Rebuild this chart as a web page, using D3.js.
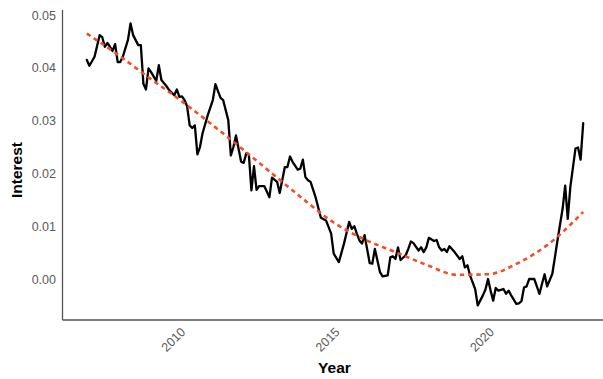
<!DOCTYPE html>
<html>
<head>
<meta charset="utf-8">
<script src="https://cdn.jsdelivr.net/npm/d3@7"></script>
<style>
  html, body { margin: 0; padding: 0; background: #ffffff; }
  svg { display: block; font-family: "Liberation Sans", Arial, Helvetica, sans-serif; }
</style>
</head>
<body>
<svg id="chart" width="603" height="379"></svg>
<script>
// Monthly interest series; month offsets count from January 2007.
const startYear = 2007;
const monthIndex = [
  0, 1, 3, 5, 6, 7, 8, 9, 10, 11, 12, 13, 14, 16, 17, 18, 20, 21, 22, 23,
  24, 25, 27, 28, 29, 31, 32, 34, 35, 36, 37, 38, 39, 40, 41, 42, 43, 44, 45, 47,
  49, 50, 51, 52, 53, 55, 56, 57, 58, 60, 61, 62, 63, 64, 65, 66, 67, 69, 71, 72,
  74, 75, 77, 78, 79, 80, 82, 83, 84, 85, 86, 87, 89, 91, 93, 95, 96, 98, 100, 102,
  103, 104, 105, 106, 107, 108, 110, 111, 112, 114, 115, 117, 118, 119, 120, 121, 122, 124, 125, 126,
  127, 129, 130, 131, 132, 133, 135, 136, 137, 138, 139, 140, 141, 143, 145, 146, 147, 148, 149, 151,
  152, 154, 155, 156, 157, 158, 159, 160, 162, 163, 164, 165, 167, 168, 169, 170, 171, 172, 174, 176,
  177, 178, 179, 181, 182, 183, 185, 186, 187, 188, 190, 191, 192, 193
];
const interest = [
  0.0415, 0.0404, 0.0421, 0.0462, 0.0458, 0.0440, 0.0447, 0.0440, 0.0432, 0.0445, 0.0411, 0.0411, 0.0421, 0.0453, 0.0484, 0.0462, 0.0443, 0.0443, 0.0370, 0.0359,
  0.0399, 0.0392, 0.0375, 0.0405, 0.0377, 0.0365, 0.0358, 0.0348, 0.0359, 0.0345, 0.0346, 0.0339, 0.0327, 0.0291, 0.0286, 0.0291, 0.0236, 0.0250, 0.0276, 0.0310,
  0.0339, 0.0369, 0.0356, 0.0343, 0.0339, 0.0301, 0.0234, 0.0250, 0.0272, 0.0222, 0.0220, 0.0238, 0.0236, 0.0168, 0.0214, 0.0169, 0.0176, 0.0176, 0.0155, 0.0192,
  0.0184, 0.0163, 0.0212, 0.0212, 0.0232, 0.0222, 0.0207, 0.0209, 0.0226, 0.0193, 0.0187, 0.0184, 0.0154, 0.0116, 0.0111, 0.0086, 0.0048, 0.0032, 0.0067, 0.0108,
  0.0095, 0.0100, 0.0086, 0.0073, 0.0067, 0.0083, 0.0030, 0.0029, 0.0057, 0.0013, 0.0005, 0.0007, 0.0041, 0.0043, 0.0038, 0.0060, 0.0036, 0.0045, 0.0057, 0.0071,
  0.0068, 0.0054, 0.0060, 0.0051, 0.0060, 0.0078, 0.0072, 0.0074, 0.0060, 0.0054, 0.0057, 0.0051, 0.0062, 0.0051, 0.0038, 0.0043, 0.0022, 0.0026, 0.0007, -0.0019,
  -0.0050, -0.0031, -0.0020, 0.0000, -0.0022, -0.0041, -0.0017, -0.0022, -0.0019, -0.0028, -0.0022, -0.0031, -0.0047, -0.0046, -0.0042, -0.0016, -0.0014, 0.0000, 0.0000, -0.0028,
  -0.0009, 0.0009, -0.0014, 0.0010, 0.0041, 0.0073, 0.0133, 0.0177, 0.0114, 0.0174, 0.0247, 0.0249, 0.0226, 0.0295
];

// Smooth trend line, sampled once a year plus the last month.
const trendMonth = [0, 12, 24, 36, 48, 60, 72, 84, 96, 108, 120, 132, 144, 156, 168, 180, 193];
const trendValue = [0.0465, 0.0425, 0.0382, 0.0340, 0.0295, 0.0248, 0.0200, 0.0152, 0.0107, 0.0075, 0.0051, 0.0027, 0.0008, 0.0009, 0.0031, 0.0068, 0.0127];

const xTicks = [2010, 2015, 2020];
const yTicks = [0.00, 0.01, 0.02, 0.03, 0.04, 0.05];

const toYear = m => startYear + m / 12;
const series = monthIndex.map((m, i) => ({ t: toYear(m), v: interest[i] }));
const trend = trendMonth.map((m, i) => ({ t: toYear(m), v: trendValue[i] }));

const panel = { left: 62, right: 608, top: 9.4, bottom: 319.5 };

// ggplot-style 5% expansion of the data range on both axes
function expand([a, b], f = 0.05) { const p = (b - a) * f; return [a - p, b + p]; }

const x = d3.scaleLinear()
  .domain(expand(d3.extent(series, d => d.t)))
  .range([panel.left, panel.right]);
const y = d3.scaleLinear()
  .domain(expand(d3.extent(series, d => d.v)))
  .range([panel.bottom, panel.top]);

const svg = d3.select("#chart");

// Series line
svg.append("path")
  .datum(series)
  .attr("fill", "none")
  .attr("stroke", "#000")
  .attr("stroke-width", 2.3)
  .attr("stroke-linejoin", "round")
  .attr("stroke-linecap", "round")
  .attr("d", d3.line().x(d => x(d.t)).y(d => y(d.v)));

// Dashed trend
svg.append("path")
  .datum(trend)
  .attr("fill", "none")
  .attr("stroke", "#F24E2A")
  .attr("stroke-width", 2.6)
  .attr("stroke-dasharray", "4.5,3.8")
  .attr("d", d3.line().curve(d3.curveMonotoneX).x(d => x(d.t)).y(d => y(d.v)));

// Axes
const axisColor = "#555";
const tickColor = "#5a5a5a";
const tickFont = 12.5;

const yAxis = svg.append("g")
  .attr("transform", `translate(${panel.left},0)`)
  .call(d3.axisLeft(y).tickValues(yTicks).tickSize(0).tickSizeOuter(0).tickPadding(6)
    .tickFormat(d3.format(".2f")));
yAxis.select(".domain").attr("stroke", axisColor).attr("stroke-width", 1.3);
yAxis.selectAll("text").attr("fill", tickColor).attr("font-size", tickFont)
  .attr("font-family", "Liberation Sans, Arial, sans-serif");

const xAxis = svg.append("g")
  .attr("transform", `translate(0,${panel.bottom})`)
  .call(d3.axisBottom(x).tickValues(xTicks).tickSize(0).tickSizeOuter(0)
    .tickFormat(d3.format("d")));
xAxis.select(".domain").attr("stroke", axisColor).attr("stroke-width", 1.3);
xAxis.selectAll("text")
  .attr("fill", tickColor)
  .attr("font-size", tickFont)
  .attr("font-family", "Liberation Sans, Arial, sans-serif")
  .attr("text-anchor", "end")
  .attr("x", 0)
  .attr("y", 7)
  .attr("dy", "0.71em")
  .attr("transform", "rotate(-45, 0, 7)");

// Axis titles
svg.append("text")
  .attr("x", 334.5)
  .attr("y", 373)
  .attr("text-anchor", "middle")
  .attr("font-size", 15.5)
  .attr("font-weight", "bold")
  .attr("fill", "#000")
  .text("Year");

svg.append("text")
  .attr("transform", "translate(22,170) rotate(-90)")
  .attr("text-anchor", "middle")
  .attr("font-size", 15.5)
  .attr("font-weight", "bold")
  .attr("fill", "#000")
  .text("Interest");
</script>
</body>
</html>
